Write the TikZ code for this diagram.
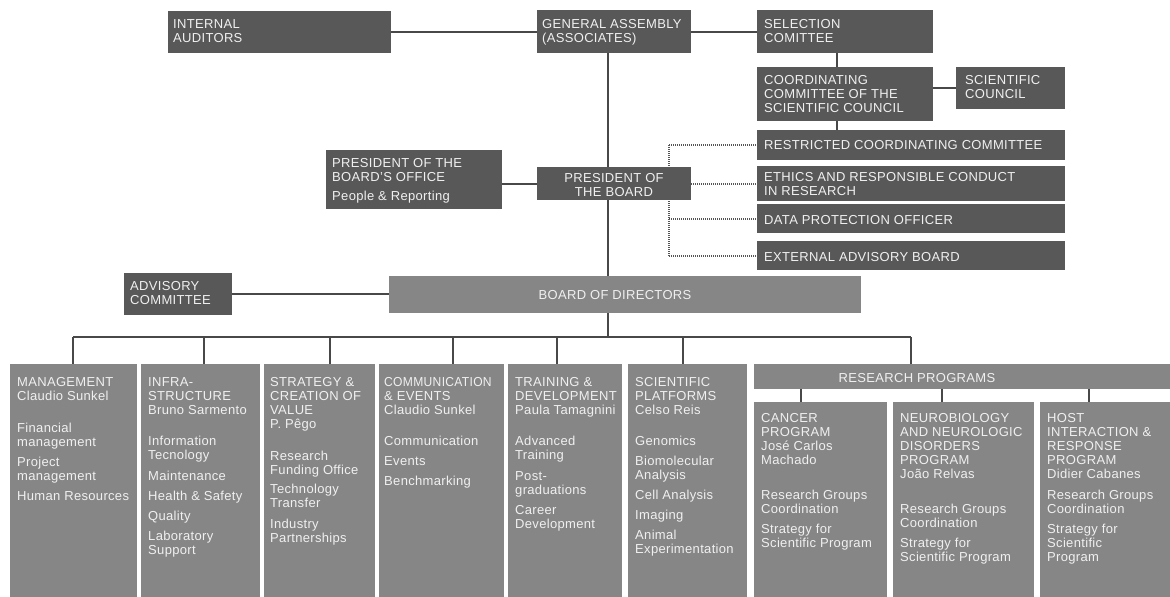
\documentclass[tikz,border=0pt]{standalone}
\usepackage{fontspec}
\setmainfont{Liberation Sans}[LetterSpace=2.5]
\definecolor{boxdark}{RGB}{88,88,88}
\definecolor{boxlight}{RGB}{134,134,134}
\definecolor{boxtext}{RGB}{240,240,240}
\definecolor{linecol}{RGB}{72,72,72}
\definecolor{dotcol}{RGB}{85,85,85}
\pgfdeclarelayer{bg}
\pgfsetlayers{bg,main}
\newcommand\lefttxt[1]{\begin{tabular}[t]{@{}l@{}}#1\end{tabular}}
\newcommand\centertxt[1]{\begin{tabular}[t]{@{}c@{}}#1\end{tabular}}
\tikzset{
  darkbox/.style={fill=boxdark, draw=none, anchor=north west, inner sep=0pt, outer sep=0pt},
  lightbox/.style={fill=boxlight, draw=none, anchor=north west, inner sep=0pt, outer sep=0pt},
  lbl/.style={text=boxtext, font=\fontsize{13}{14}\selectfont, anchor=base west, inner sep=0pt},
  clbl/.style={lbl, anchor=base},
  conn/.style={draw=linecol, line width=2pt},
  dotconn/.style={draw=dotcol, line width=2pt, dash pattern=on 1pt off 1pt},
}
\begin{document}
\begin{tikzpicture}[x=1pt,y=-1pt]
\useasboundingbox (0,0) rectangle (1170,597);
% ---------- top boxes
\node[darkbox, minimum width=223pt, minimum height=42pt] (ia) at (168,11) {};
\node[darkbox, minimum width=154pt, minimum height=43pt] (ga) at (537,10) {};
\node[darkbox, minimum width=176pt, minimum height=43pt] (sel) at (757,10) {};
\node[darkbox, minimum width=176pt, minimum height=54pt] (coord) at (757,67) {};
\node[darkbox, minimum width=109pt, minimum height=42pt] (sci) at (956,67) {};
\node[darkbox, minimum width=308pt, minimum height=30pt] (rc) at (757,130) {};
\node[darkbox, minimum width=308pt, minimum height=35pt] (eth) at (757,166) {};
\node[darkbox, minimum width=308pt, minimum height=29pt] (dpo) at (757,204) {};
\node[darkbox, minimum width=308pt, minimum height=29pt] (ext) at (757,241) {};
\node[darkbox, minimum width=176pt, minimum height=59pt] (off) at (326,150) {};
\node[darkbox, minimum width=154pt, minimum height=33pt] (pres) at (537,167) {};
\node[darkbox, minimum width=108pt, minimum height=42pt] (adv) at (124,273) {};
\node[lightbox, minimum width=472pt, minimum height=37pt] (bod) at (389,276) {};
% ---------- bottom boxes
\node[lightbox, minimum width=127pt, minimum height=233pt] (mg) at (10,364) {};
\node[lightbox, minimum width=119pt, minimum height=233pt] (inf) at (141,364) {};
\node[lightbox, minimum width=111pt, minimum height=233pt] (str) at (264,364) {};
\node[lightbox, minimum width=125pt, minimum height=233pt] (com) at (379,364) {};
\node[lightbox, minimum width=114pt, minimum height=233pt] (trn) at (508,364) {};
\node[lightbox, minimum width=119pt, minimum height=233pt] (plt) at (628,364) {};
\node[lightbox, minimum width=416pt, minimum height=25pt] (rp) at (754,364) {};
\node[lightbox, minimum width=133pt, minimum height=195pt] (can) at (754,402) {};
\node[lightbox, minimum width=141pt, minimum height=195pt] (neu) at (893,402) {};
\node[lightbox, minimum width=130pt, minimum height=195pt] (hst) at (1040,402) {};
% ---------- texts
\node[lbl] (ia-t) at (173,28) {\lefttxt{INTERNAL\\AUDITORS}};
\node[lbl] (ga-t) at (542,28) {\lefttxt{GENERAL ASSEMBLY\\(ASSOCIATES)}};
\node[lbl] (sel-t) at (764,28) {\lefttxt{SELECTION\\COMITTEE}};
\node[lbl] (coord-t) at (764,84) {\lefttxt{COORDINATING\\COMMITTEE OF THE\\SCIENTIFIC COUNCIL}};
\node[lbl] (sci-t) at (965,84) {\lefttxt{SCIENTIFIC\\COUNCIL}};
\node[lbl] (rc-t) at (764,149) {RESTRICTED COORDINATING COMMITTEE};
\node[lbl] (eth-t) at (764,181) {\lefttxt{ETHICS AND RESPONSIBLE CONDUCT\\IN RESEARCH}};
\node[lbl] (dpo-t) at (764,224) {DATA PROTECTION OFFICER};
\node[lbl] (ext-t) at (764,261) {EXTERNAL ADVISORY BOARD};
\node[lbl] (off-t) at (332,167) {\lefttxt{PRESIDENT OF THE\\BOARD'S OFFICE\\[5pt]People \& Reporting}};
\node[clbl] (pres-t) at (614,182) {\centertxt{PRESIDENT OF\\THE BOARD}};
\node[lbl] (adv-t) at (130,290) {\lefttxt{ADVISORY\\COMMITTEE}};
\node[clbl] (bod-t) at (615,299) {BOARD OF DIRECTORS};
\node[clbl] (rp-t) at (917,382) {RESEARCH PROGRAMS};
\node[lbl] (mg-t) at (17,386) {\lefttxt{MANAGEMENT\\Claudio Sunkel\\[18pt]Financial\\management\\[6pt]Project\\management\\[6pt]Human Resources}};
\node[lbl] (inf-t) at (148,386) {\lefttxt{INFRA-\\STRUCTURE\\Bruno Sarmento\\[17pt]Information\\Tecnology\\[7pt]Maintenance\\[6pt]Health \& Safety\\[6pt]Quality\\[6pt]Laboratory\\Support}};
\node[lbl] (str-t) at (270,386) {\lefttxt{STRATEGY \&\\CREATION OF\\VALUE\\P. Pêgo\\[18pt]Research\\Funding Office\\[5pt]Technology\\Transfer\\[7pt]Industry\\Partnerships}};
\node[lbl] (com-t) at (384,386) {\lefttxt{\scalebox{0.93}[1]{COMMUNICATION}\\\& EVENTS\\Claudio Sunkel\\[17pt]Communication\\[6pt]Events\\[6pt]Benchmarking}};
\node[lbl] (trn-t) at (515,386) {\lefttxt{TRAINING \&\\DEVELOPMENT\\Paula Tamagnini\\[17pt]Advanced\\Training\\[7pt]Post-\\graduations\\[6pt]Career\\Development}};
\node[lbl] (plt-t) at (635,386) {\lefttxt{SCIENTIFIC\\PLATFORMS\\Celso Reis\\[17pt]Genomics\\[6pt]Biomolecular\\Analysis\\[6pt]Cell Analysis\\[6pt]Imaging\\[6pt]Animal\\Experimentation}};
\node[lbl] (can-t) at (761,422) {\lefttxt{CANCER\\PROGRAM\\José Carlos\\Machado\\[21pt]Research Groups\\Coordination\\[6pt]Strategy for\\Scientific Program}};
\node[lbl] (neu-t) at (900,422) {\lefttxt{NEUROBIOLOGY\\AND NEUROLOGIC\\DISORDERS\\PROGRAM\\João Relvas\\[21pt]Research Groups\\Coordination\\[6pt]Strategy for\\Scientific Program}};
\node[lbl] (hst-t) at (1047,422) {\lefttxt{HOST\\INTERACTION \&\\RESPONSE\\PROGRAM\\Didier Cabanes\\[7pt]Research Groups\\Coordination\\[6pt]Strategy for\\Scientific\\Program}};
% ---------- connectors
\coordinate (spine) at (608,0);
\coordinate (bus) at (0,337);
\coordinate (d1) at (73,337);
\coordinate (d2) at (204,337);
\coordinate (d3) at (330,337);
\coordinate (d4) at (453,337);
\coordinate (d5) at (557,337);
\coordinate (d6) at (683,337);
\coordinate (d7) at (911,337);
\coordinate (sc) at (837,0);
\coordinate (r1) at (801,0);
\coordinate (r2) at (942,0);
\coordinate (r3) at (1089,0);
\coordinate (dv) at (669,0);
\begin{pgfonlayer}{bg}
\draw[conn] (ga.south -| spine) -- (bod.north -| spine);
\draw[conn] (bod.south -| spine) -- (bus -| spine);
\draw[conn] (d1) -- (d7);
\draw[conn] (d1) -- (d1 |- mg.north);
\draw[conn] (d2) -- (d2 |- inf.north);
\draw[conn] (d3) -- (d3 |- str.north);
\draw[conn] (d4) -- (d4 |- com.north);
\draw[conn] (d5) -- (d5 |- trn.north);
\draw[conn] (d6) -- (d6 |- plt.north);
\draw[conn] (d7) -- (d7 |- rp.north);
\draw[conn] (ia.east) -- (ia.east -| ga.west);
\draw[conn] (ga.east) -- (ga.east -| sel.west);
\draw[conn] (sel.south -| sc) -- (coord.north -| sc);
\draw[conn] (coord.south -| sc) -- (rc.north -| sc);
\draw[conn] (sci.west -| coord.east) -- (sci.west);
\draw[conn] (pres.west -| off.east) -- (pres.west);
\draw[conn] (adv.east) -- (adv.east -| bod.west);
\draw[conn] (rp.south -| r1) -- (can.north -| r1);
\draw[conn] (rp.south -| r2) -- (neu.north -| r2);
\draw[conn] (rp.south -| r3) -- (hst.north -| r3);
\draw[dotconn] (rc.west -| dv) -- (ext.west -| dv);
\draw[dotconn] (rc.west -| dv) -- (rc.west);
\draw[dotconn] (pres.east) -- (pres.east -| eth.west);
\draw[dotconn] (dpo.west -| dv) -- (dpo.west);
\draw[dotconn] (ext.west -| dv) -- (ext.west);
\end{pgfonlayer}
\end{tikzpicture}
\end{document}
